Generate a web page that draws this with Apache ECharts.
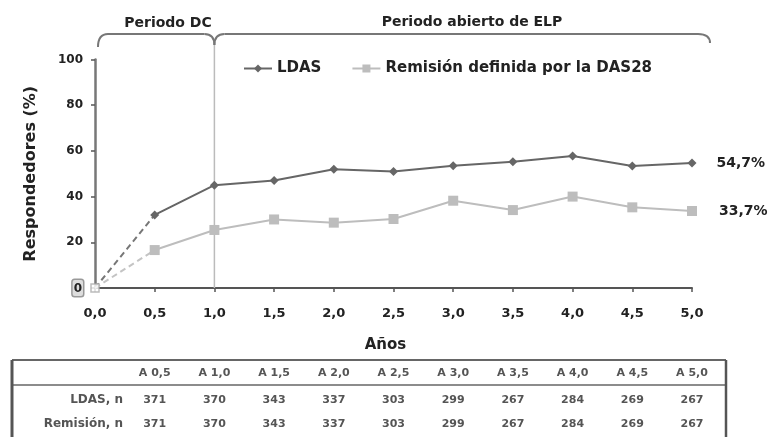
<!DOCTYPE html>
<html><head><meta charset="utf-8">
<script src="https://cdn.jsdelivr.net/npm/echarts@6/dist/echarts.min.js"></script>
<style>html,body{margin:0;padding:0;background:#fff}#c{width:773px;height:437px}</style>
</head><body><div id="c"></div>
<script>
var years = [0, 0.5, 1, 1.5, 2, 2.5, 3, 3.5, 4, 4.5, 5];
var ldas = [0, 32, 45, 47, 52, 51, 53.5, 55.3, 57.8, 53.4, 54.7];
var remision = [0, 16.6, 25.4, 30, 28.6, 30.2, 38.2, 34.1, 40, 35.3, 33.7];
var endLabels = ['54,7%', '33,7%'];
var seriesNames = ['LDAS', 'Remisión definida por la DAS28'];
var periodLabels = ['Periodo DC', 'Periodo abierto de ELP'];
var tableHeads = ['A 0,5','A 1,0','A 1,5','A 2,0','A 2,5','A 3,0','A 3,5','A 4,0','A 4,5','A 5,0'];
var tableRowLabels = ['LDAS, n', 'Remisión, n'];
var ldasN = [371,370,343,337,303,299,267,284,269,267];
var remN = [371,370,343,337,303,299,267,284,269,267];

var FONT = 'DejaVu Sans';
var darkC = '#666666', lightC = '#bdbdbd';
function pairs(xs, ys, from, to){ var r=[]; for(var i=from;i<=to;i++) r.push([xs[i], ys[i]]); return r; }
function fmt(v){ return v.toFixed(1).replace('.', ','); }

var chart = echarts.init(document.getElementById('c'), null, {renderer:'canvas'});
var option = {
  animation:false,
  backgroundColor:'#fff',
  grid:{left:95, right:81, top:59.5, bottom:149, containLabel:false},
  legend:{
    data:[seriesNames[0], seriesNames[1]],
    left:238, top:56, itemWidth:28, itemHeight:10, itemGap:30,
    textStyle:{fontFamily:FONT, fontWeight:'bold', fontSize:15, color:'#222'}
  },
  xAxis:{
    type:'value', min:0, max:5, interval:0.5,
    name:'Años', nameLocation:'middle', nameGap:50,
    nameTextStyle:{fontFamily:FONT, fontWeight:'bold', fontSize:15, color:'#222', padding:[0,16,0,0]},
    axisLine:{show:true, lineStyle:{color:'#555', width:2}},
    axisTick:{show:true, length:4, inside:false, lineStyle:{color:'#555', width:1.5}},
    axisLabel:{fontFamily:FONT, fontWeight:'bold', fontSize:13, color:'#222', margin:19, formatter:function(v){return fmt(v);}},
    splitLine:{show:false}
  },
  yAxis:{
    type:'value', min:0, max:100, interval:20,
    name:'Respondedores (%)', nameLocation:'middle', nameGap:56, nameRotate:90,
    nameTextStyle:{fontFamily:FONT, fontWeight:'bold', fontSize:16, color:'#222'},
    axisLine:{show:true, lineStyle:{color:'#777', width:2.5}},
    axisTick:{show:true, length:4, lineStyle:{color:'#555', width:1.5}},
    axisLabel:{fontFamily:FONT, fontWeight:'bold', fontSize:12, color:'#222', margin:12,
      formatter:function(v){ return v===0 ? '{z|0}' : String(v); },
      rich:{z:{fontFamily:FONT, fontWeight:'bold', fontSize:12, color:'#222', borderColor:'#999', borderWidth:1.5, padding:[3,1,1,1], backgroundColor:'#ddd', borderRadius:2}}},
    splitLine:{show:false}
  },
  series:[
    {name:seriesNames[0]+'_d', type:'line', data:pairs(years, ldas, 0, 1), showSymbol:false, symbol:'none',
      lineStyle:{color:'#777', width:2, type:[6,4]}, z:2, silent:true},
    {name:seriesNames[1]+'_d', type:'line', data:pairs(years, remision, 0, 1), showSymbol:false, symbol:'none',
      lineStyle:{color:'#c4c4c4', width:2, type:[6,4]}, z:2, silent:true},
    {name:seriesNames[0], type:'line', data:pairs(years, ldas, 1, 10), symbol:'diamond', symbolSize:9,
      itemStyle:{color:darkC}, lineStyle:{color:darkC, width:2}, z:4,
      label:{show:true, position:'right', distance:20, fontFamily:FONT, fontWeight:'bold', fontSize:14, color:'#222',
        formatter:function(p){ return p.dataIndex===9 ? endLabels[0] : ''; }}},
    {name:seriesNames[1], type:'line', data:pairs(years, remision, 1, 10), symbol:'rect', symbolSize:10,
      itemStyle:{color:lightC}, lineStyle:{color:lightC, width:2}, z:3,
      label:{show:true, position:'right', distance:22, fontFamily:FONT, fontWeight:'bold', fontSize:14, color:'#222',
        formatter:function(p){ return p.dataIndex===9 ? endLabels[1] : ''; }}},
    {name:'origin', type:'scatter', data:[[years[0], ldas[0]]], symbol:'rect', symbolSize:8,
      itemStyle:{color:'#fff', borderColor:'#aaa', borderWidth:1.5}, z:5, silent:true}
  ]
};
chart.setOption(option);

function px(x){ return chart.convertToPixel({xAxisIndex:0}, x); }
function py(y){ return chart.convertToPixel({yAxisIndex:0}, y); }
var x0 = px(0), x1 = px(1), x5 = px(5), yTop = 34, yAxis0 = py(0);
var g = [];
var bs = {stroke:'#777', lineWidth:2, fill:null};
var r = 10;
function bz(ax, ay, cx, cy, bx, by){ return {type:'bezierCurve', shape:{x1:ax, y1:ay, cpx1:cx, cpy1:cy, x2:bx, y2:by}, style:bs}; }
function ln(ax, ay, bx, by, st){ return {type:'line', shape:{x1:ax, y1:ay, x2:bx, y2:by}, style:st || bs}; }
// left brace
g.push(bz(x0+3, yTop+13, x0+3, yTop, x0+3+r, yTop));
g.push(ln(x0+3+r, yTop, x1-r, yTop));
g.push(bz(x1-r, yTop, x1, yTop, x1, yTop+11));
// right brace
g.push(bz(x1, yTop+11, x1, yTop, x1+r, yTop));
g.push(ln(x1+r, yTop, x5+6, yTop));
g.push(bz(x5+6, yTop, x5+18, yTop, x5+18, yTop+9));
g.push({type:'text', x:168, y:23, style:{text:periodLabels[0], fontFamily:FONT, fontWeight:'bold', fontSize:14, fill:'#222', align:'center', verticalAlign:'middle'}});
g.push({type:'text', x:472, y:22, style:{text:periodLabels[1], fontFamily:FONT, fontWeight:'bold', fontSize:14, fill:'#222', align:'center', verticalAlign:'middle'}});
// vertical divider at year 1
g.push({type:'line', z:1, shape:{x1:x1, y1:yTop+11, x2:x1, y2:yAxis0}, style:{stroke:'#bbb', lineWidth:1.5}});
// table
var tL = 12, tR = 726, tTop = 360, tHead = 385;
g.push(ln(tL, tTop, tR, tTop, {stroke:'#666', lineWidth:2}));
g.push(ln(tL, tHead, tR, tHead, {stroke:'#666', lineWidth:1.5}));
g.push(ln(tL, tTop, tL, 437, {stroke:'#555', lineWidth:3}));
g.push(ln(tR, tTop, tR, 437, {stroke:'#555', lineWidth:2.5}));
function tx(x, y, s, al, fs){ return {type:'text', x:x, y:y, style:{text:s, align:al, fontFamily:FONT, fontWeight:'bold', fontSize:fs, fill:'#555', verticalAlign:'middle'}}; }
for (var i=0;i<tableHeads.length;i++){
  var cx = px(years[i+1]);
  g.push(tx(cx, 373, tableHeads[i], 'center', 11));
  g.push(tx(cx, 400, String(ldasN[i]), 'center', 11));
  g.push(tx(cx, 424, String(remN[i]), 'center', 11));
}
g.push(tx(123, 400, tableRowLabels[0], 'right', 12));
g.push(tx(123, 424, tableRowLabels[1], 'right', 12));
chart.setOption({graphic:g});
</script></body></html>
